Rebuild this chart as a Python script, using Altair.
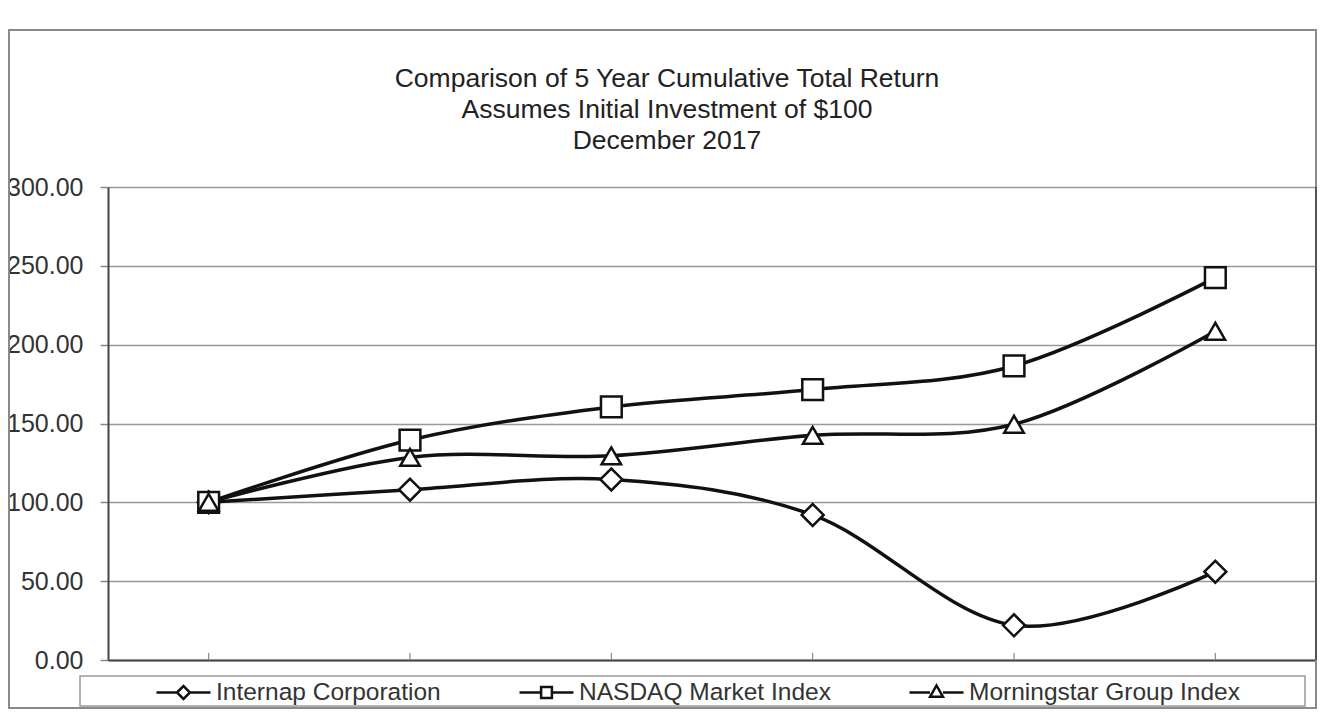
import altair as alt
import pandas as pd

# ---- data ----
years = ["12/12", "12/13", "12/14", "12/15", "12/16", "12/17"]
series_names = ["Internap Corporation", "NASDAQ Market Index", "Morningstar Group Index"]
internap = [100.0, 108.0, 114.5, 92.0, 22.0, 56.0]
nasdaq = [100.0, 139.5, 160.5, 171.5, 186.5, 242.5]
morningstar = [100.0, 128.5, 129.5, 142.5, 149.5, 208.5]
y_ticks = [0, 50, 100, 150, 200, 250, 300]
title_lines = [
    "Comparison of 5 Year Cumulative Total Return",
    "Assumes Initial Investment of $100",
    "December 2017",
]

rows = []
for name, vals in zip(series_names, [internap, nasdaq, morningstar]):
    for yr, v in zip(years, vals):
        rows.append({"year": yr, "series": name, "value": v})
df = pd.DataFrame(rows)
years_df = pd.DataFrame({"year": years})

W, H = 1208, 473
FONT = "Liberation Sans"

x_enc = alt.X(
    "year:O",
    sort=years,
    scale=alt.Scale(type="point", padding=0.5),
    axis=alt.Axis(labels=False, ticks=False, title=None, grid=False,
                  domainColor="#444", domainWidth=2),
)
y_enc = alt.Y(
    "value:Q",
    scale=alt.Scale(domain=[0, 300], nice=False),
    axis=alt.Axis(values=y_ticks, format=".2f", title=None, labelFontSize=25,
                  labelFont=FONT, labelColor="#333", tickSize=8, tickColor="#888",
                  tickWidth=1.5, labelPadding=17, domainColor="#444", domainWidth=2,
                  grid=True, gridColor="#999", gridWidth=1.5),
)

one = alt.Data(values=[{"k": 1}])
title_data = alt.Data(values=[{"t": "\n".join(title_lines)}])

frame = alt.Chart(one).mark_rect(fillOpacity=0, stroke="#8a8a8a", strokeWidth=2).encode(
    x=alt.value(-99), x2=alt.value(W), y=alt.value(-157), y2=alt.value(H + 48)
)
right_edge = alt.Chart(one).mark_rule(color="#555", strokeWidth=2).encode(
    x=alt.value(W), y=alt.value(0), y2=alt.value(H)
)
legend_box = alt.Chart(one).mark_rect(fillOpacity=0, stroke="#999", strokeWidth=1.5).encode(
    x=alt.value(-28), x2=alt.value(1197), y=alt.value(489), y2=alt.value(519)
)

title_text = alt.Chart(title_data).mark_text(
    font=FONT, fontSize=26.5, color="#222", lineBreak="\n", lineHeight=31,
    align="center", baseline="middle",
).encode(text="t:N", x=alt.value(559), y=alt.value(-108))

xticks = alt.Chart(years_df).mark_rule(color="#888", strokeWidth=1.2).encode(
    x=alt.X("year:O", sort=years), y=alt.value(H), y2=alt.value(H - 7)
)

lines = alt.Chart(df).mark_line(interpolate="cardinal", color="#111", strokeWidth=3.5).encode(
    x=x_enc, y=y_enc, detail="series:N"
)

points = alt.Chart(df).mark_point(filled=True, fill="white", stroke="#111",
                                  strokeWidth=2.5, opacity=1).encode(
    x=alt.X("year:O", sort=years),
    y="value:Q",
    shape=alt.Shape("series:N", scale=alt.Scale(domain=series_names,
                                                range=["diamond", "square", "triangle-up"]),
                    legend=None),
    size=alt.Size("series:N", scale=alt.Scale(domain=series_names, range=[480, 380, 420]),
                  legend=None),
)

leg_paths = [
    "M-1,0L-0.24,0M0.24,0L1,0M-0.24,0L0,-0.24L0.24,0L0,0.24Z",
    "M-1,0L-0.2,0M0.2,0L1,0M-0.2,-0.2L0.2,-0.2L0.2,0.2L-0.2,0.2Z",
    "M-1,0L-0.24,0M0.24,0L1,0M-0.24,0.16L0,-0.26L0.24,0.16Z",
]
legend_layer = alt.Chart(df).transform_filter("false").mark_point(
    filled=False, stroke="#111", strokeWidth=2.5, opacity=1
).encode(
    x=alt.X("year:O", sort=years),
    y="value:Q",
    shape=alt.Shape(
        "series:N",
        scale=alt.Scale(domain=series_names, range=leg_paths),
        legend=alt.Legend(
            title=None, orient="none", direction="horizontal", legendX=47, legendY=477,
            symbolSize=2916, symbolStrokeWidth=2.5, symbolStrokeColor="#111",
            symbolOpacity=1,
            labelFontSize=24.5, labelFont=FONT, labelColor="#333", labelOffset=4,
            columnPadding=73, gridAlign="each", labelLimit=400,
        ),
    ),
)

chart = alt.layer(
    frame, legend_box, title_text, xticks, lines, points, legend_layer, right_edge
).resolve_scale(shape="independent", size="independent").properties(
    width=W, height=H,
    autosize=alt.AutoSizeParams(type="none"),
    padding={"left": 100, "top": 179, "right": 2, "bottom": 50},
).configure_view(stroke=None).configure(font=FONT)

chart.save("out.html", embed_options={"renderer": "svg", "actions": False})
